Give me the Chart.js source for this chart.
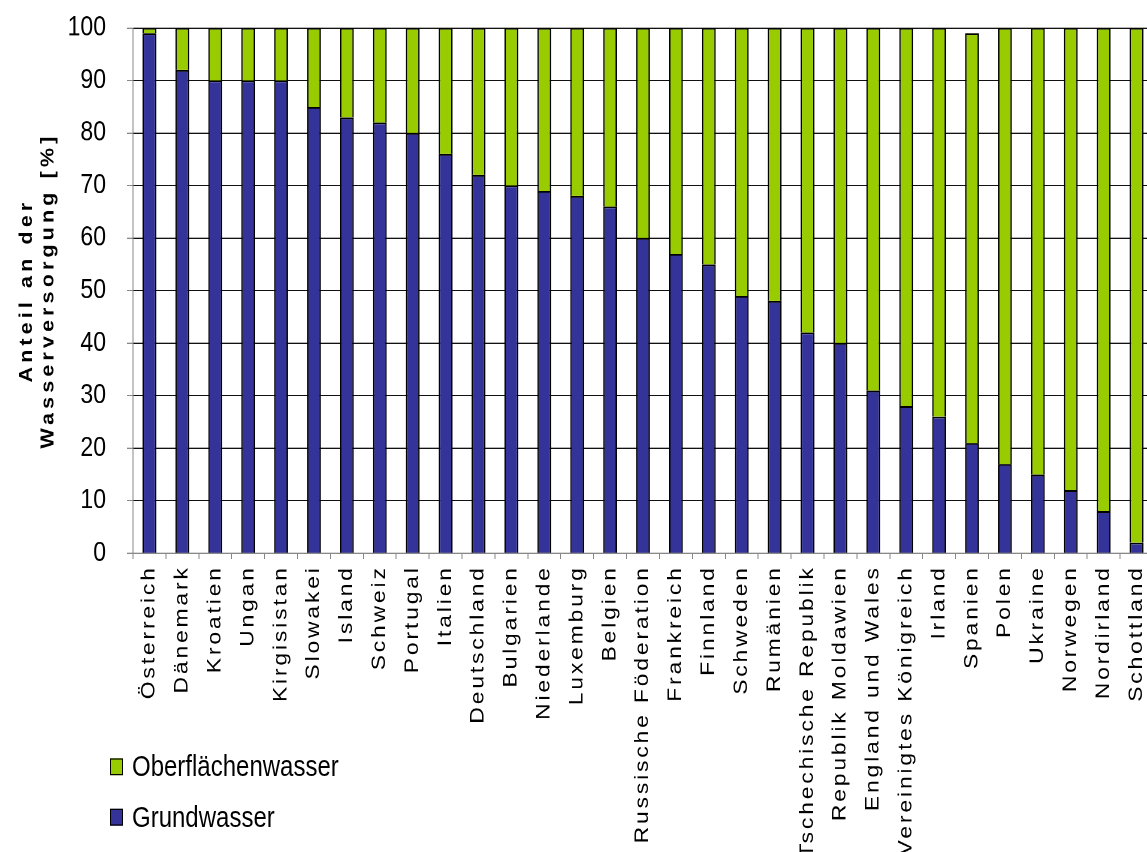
<!DOCTYPE html>
<html>
<head>
<meta charset="utf-8">
<title>Anteil an der Wasserversorgung</title>
<script src="https://cdn.jsdelivr.net/npm/chart.js@4"></script>
<style>
  html, body { margin: 0; padding: 0; overflow: hidden; background: #fff; }
  /* the original picture is stretched vertically, so draw flatter and stretch */
  #wrap { position: absolute; left: 0; top: 0; width: 1168px; height: 710px;
          transform: scaleY(1.2); transform-origin: 0 0; }
  #legend { position: absolute; left: 110px; top: 627px;
            font: 24px "Liberation Sans", Arial, sans-serif; color: #000; }
  #legend div { display: flex; align-items: center; height: 24px; margin-bottom: 18px; white-space: nowrap; }
  #legend .box { width: 11px; height: 12px; border: 1px solid #000; margin-right: 9px; }
</style>
</head>
<body>
<div id="wrap">
  <canvas id="myChart"></canvas>
  <div id="legend"></div>
</div>
<script>
const categories = [
  "Österreich", "Dänemark", "Kroatien", "Ungan", "Kirgisistan", "Slowakei",
  "Island", "Schweiz", "Portugal", "Italien", "Deutschland", "Bulgarien",
  "Niederlande", "Luxemburg", "Belgien", "Russische Föderation", "Frankreich",
  "Finnland", "Schweden", "Rumänien", "Tschechische Republik", "Republik Moldawien",
  "England und Wales", "Vereinigtes Königreich", "Irland", "Spanien", "Polen",
  "Ukraine", "Norwegen", "Nordirland", "Schottland"
];
const grundwasser = [99, 92, 90, 90, 90, 85, 83, 82, 80, 76, 72, 70, 69, 68, 66, 60,
  57, 55, 49, 48, 42, 40, 31, 28, 26, 21, 17, 15, 12, 8, 2];
const oberflaechenwasser = [1, 8, 10, 10, 10, 15, 17, 18, 20, 24, 28, 30, 31, 32, 34, 40,
  43, 45, 51, 52, 58, 60, 69, 72, 74, 78, 83, 85, 88, 92, 98];
const yMin = 0;
const yMax = 100;
const yStep = 10;

Chart.defaults.font.family = '"Liberation Sans", Arial, sans-serif';
Chart.defaults.color = "#000";

// rotated texts in the original are spaced out
function spaced(scale, method, spacing) {
  if (scale["_orig_" + method]) return;
  const orig = scale[method];
  scale["_orig_" + method] = orig;
  scale[method] = function (...args) {
    this.ctx.save();
    this.ctx.letterSpacing = spacing;
    orig.apply(this, args);
    this.ctx.restore();
  };
}

const letterSpacing = {
  id: "letterSpacing",
  beforeDraw(chart) {
    spaced(chart.scales.x, "drawLabels", "2.4px");
    spaced(chart.scales.y, "drawTitle", "3.4px");
  }
};

const chart = new Chart("myChart", {
  type: "bar",
  data: {
    labels: categories,
    datasets: [{
      label: "Grundwasser",
      data: grundwasser,
      backgroundColor: "#333399",
      borderColor: "#000",
      borderWidth: 1.5
    }, {
      label: "Oberflächenwasser",
      data: oberflaechenwasser,
      backgroundColor: "#99cc00",
      borderColor: "#000",
      borderWidth: 1.5
    }]
  },
  options: {
    responsive: true,
    maintainAspectRatio: false,
    animation: false,
    devicePixelRatio: 2,
    layout: { padding: { top: 23.3, right: 15, left: 0, bottom: 0 } },
    datasets: { bar: { categoryPercentage: 1, barPercentage: 0.42 } },
    plugins: {
      legend: { display: false },
      tooltip: { enabled: false }
    },
    scales: {
      x: {
        stacked: true,
        grid: { drawOnChartArea: false, tickLength: 5, tickColor: "#888", offset: true },
        border: { color: "#888" },
        ticks: {
          autoSkip: false, minRotation: 90, maxRotation: 90, padding: 5,
          font: { size: 19 }
        },
        afterFit: (s) => { s.height = 249; }
      },
      y: {
        stacked: true,
        min: yMin,
        max: yMax,
        ticks: { stepSize: yStep, padding: 21, font: { size: 23 } },
        grid: { color: "#111", tickColor: "#888", tickLength: 6 },
        border: { color: "#888" },
        title: {
          display: true,
          text: ["Anteil an der", "Wasserversorgung [%]"],
          font: { size: 18, weight: "bold" },
          padding: { top: 16, bottom: 0 }
        },
        afterFit: (s) => {
          s.width = 133;
          s.paddingTop = 0;
          s.paddingBottom = 0;
        }
      }
    }
  },
  plugins: [letterSpacing]
});

// legend below the chart, surface water first
const legendEl = document.getElementById("legend");
chart.data.datasets.slice().reverse().forEach((ds) => {
  const row = document.createElement("div");
  const box = document.createElement("span");
  box.className = "box";
  box.style.background = ds.backgroundColor;
  row.appendChild(box);
  row.appendChild(document.createTextNode(ds.label));
  legendEl.appendChild(row);
});
</script>
</body>
</html>
